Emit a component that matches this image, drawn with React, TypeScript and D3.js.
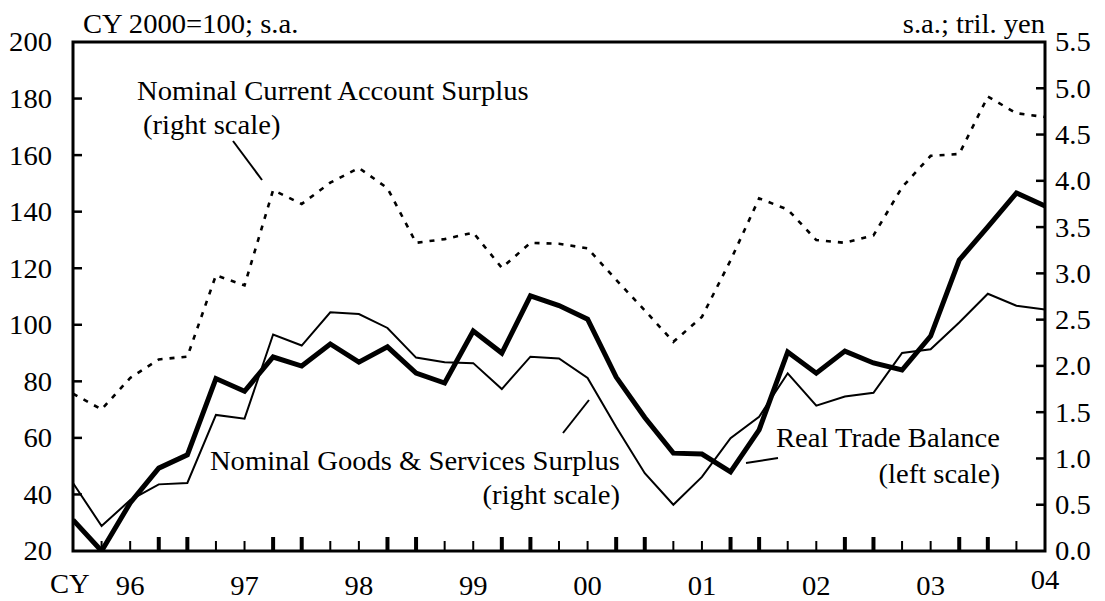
import React from "react";
import * as d3 from "d3";

const quarters: string[] = [];
for (let y = 1996; y <= 2004; y++) {
  for (let q = 1; q <= 4; q++) {
    if (y === 2004 && q > 3) break;
    quarters.push(`${y}Q${q}`);
  }
}

// Real Trade Balance (left scale, CY 2000 = 100)
const realTrade: number[] = [
  31.0, 20, 37, 49.3, 54, 81, 76.5, 88.6, 85.4, 93.2, 86.8, 92.2, 82.9, 79.4, 97.8, 90,
  110.2, 106.8, 102, 81.5, 67.2, 54.6, 54.3, 48, 62.8, 90.4, 82.9, 90.7, 86.5, 84, 96,
  122.9, 134.6, 146.6, 142,
];
// Nominal Goods & Services Surplus (right scale, tril. yen)
const goodsServices: number[] = [
  0.735, 0.27, 0.55, 0.72, 0.735, 1.47, 1.43, 2.34, 2.22, 2.58, 2.56, 2.41, 2.09, 2.04,
  2.03, 1.75, 2.1, 2.08, 1.87, 1.34, 0.84, 0.5, 0.8, 1.22, 1.45, 1.92, 1.57, 1.67, 1.71,
  2.14, 2.18, 2.47, 2.78, 2.65, 2.61,
];
// Nominal Current Account Surplus (right scale, tril. yen)
const currentAccount: number[] = [
  1.7, 1.53, 1.87, 2.07, 2.1, 2.98, 2.87, 3.9, 3.75, 3.98, 4.14, 3.92, 3.33, 3.37, 3.44,
  3.06, 3.33, 3.32, 3.27, 2.93, 2.6, 2.26, 2.53, 3.14, 3.81, 3.69, 3.36, 3.33, 3.41, 3.93,
  4.27, 4.29, 4.91, 4.73, 4.69,
];

const leftTicks: number[] = [20, 40, 60, 80, 100, 120, 140, 160, 180, 200];
const rightTicks: number[] = [0, 0.5, 1, 1.5, 2, 2.5, 3, 3.5, 4, 4.5, 5, 5.5];
const yearLabels: string[] = ["96", "97", "98", "99", "00", "01", "02", "03", "04"];

const FONT = "'Liberation Serif', 'Times New Roman', serif";
const FS = 27;
const SX = 1.06;

function T(props: { x: number; y: number; anchor?: "start" | "middle" | "end"; dy?: string; children: React.ReactNode }) {
  return (
    <text
      transform={`translate(${props.x},${props.y}) scale(${SX},1)`}
      dy={props.dy}
      textAnchor={props.anchor || "start"}
      fontFamily={FONT}
      fontSize={FS}
      fill="#000"
    >
      {props.children}
    </text>
  );
}

export default function App() {
  const W = 1105, H = 601;
  const L = 73, R = 1045, Tp = 42, B = 551;
  const x = d3.scalePoint<string>().domain(quarters).range([L, R]);
  const yL = d3.scaleLinear().domain([20, 200]).range([B, Tp]);
  const yR = d3.scaleLinear().domain([0, 5.5]).range([B, Tp]);

  const lineL = d3.line<number>().x((_, i) => x(quarters[i])!).y((d) => yL(d));
  const lineR = d3.line<number>().x((_, i) => x(quarters[i])!).y((d) => yR(d));

  return (
    <svg width={W} height={H} style={{ position: "absolute", left: 0, top: 0, background: "#fff" }}>
      <rect x={0} y={0} width={W} height={H} fill="#fff" />
      <defs>
        <clipPath id="plot">
          <rect x={L} y={Tp} width={R - L} height={B - Tp} />
        </clipPath>
      </defs>

      {/* series */}
      <g clipPath="url(#plot)">
        <path d={lineR(currentAccount)!} fill="none" stroke="#000" strokeWidth={2.6} strokeDasharray="5,7" />
        <path d={lineR(goodsServices)!} fill="none" stroke="#000" strokeWidth={2} />
        <path d={lineL(realTrade)!} fill="none" stroke="#000" strokeWidth={5} />
      </g>

      {/* frame */}
      <rect x={L} y={Tp} width={R - L} height={B - Tp} fill="none" stroke="#000" strokeWidth={3} />

      {/* left ticks */}
      {leftTicks.map((t) => (
        <g key={"l" + t}>
          {t > 20 && t < 200 && <line x1={L} x2={L + 9} y1={yL(t)} y2={yL(t)} stroke="#000" strokeWidth={2.5} />}
          <T x={52} y={yL(t)} dy="0.35em" anchor="end">{t}</T>
        </g>
      ))}
      {/* right ticks */}
      {rightTicks.map((t) => (
        <g key={"r" + t}>
          {t > 0 && t < 5.5 && <line x1={R} x2={R - 9} y1={yR(t)} y2={yR(t)} stroke="#000" strokeWidth={2.5} />}
          <T x={1055} y={yR(t)} dy="0.35em">{t.toFixed(1)}</T>
        </g>
      ))}

      {/* bottom ticks */}
      {quarters.map((q, i) => {
        if (i === 0 || i === quarters.length - 1) return null;
        const qn = +q.slice(5);
        const thick = qn === 4 || qn === 1;
        return (
          <line
            key={q}
            x1={x(q)}
            x2={x(q)}
            y1={B}
            y2={B - (thick ? 14 : 10)}
            stroke="#000"
            strokeWidth={thick ? 4 : 2}
          />
        );
      })}

      {/* year labels */}
      {yearLabels.map((yl) => {
        const yr = +yl < 50 ? 2000 + +yl : 1900 + +yl;
        const q = `${yr}Q3`;
        const last = yl === "04";
        return (
          <T key={yl} x={x(q)!} y={last ? 589 : 595} anchor="middle">{yl}</T>
        );
      })}
      <T x={50} y={593}>CY</T>

      {/* unit titles */}
      <T x={83} y={33}>CY 2000=100; s.a.</T>
      <T x={1045} y={33} anchor="end">s.a.; tril. yen</T>

      {/* annotations */}
      <T x={137} y={100}>Nominal Current Account Surplus</T>
      <T x={143} y={134}>(right scale)</T>
      <line x1={233} y1={141} x2={262} y2={180} stroke="#000" strokeWidth={2} />

      <T x={620} y={470} anchor="end">Nominal Goods &amp; Services Surplus</T>
      <T x={620} y={504} anchor="end">(right scale)</T>
      <line x1={563} y1={433} x2={589} y2={400} stroke="#000" strokeWidth={2} />

      <T x={1000} y={447} anchor="end">Real Trade Balance</T>
      <T x={1000} y={483} anchor="end">(left scale)</T>
      <line x1={746} y1={463} x2={778} y2={458} stroke="#000" strokeWidth={2} />
    </svg>
  );
}
